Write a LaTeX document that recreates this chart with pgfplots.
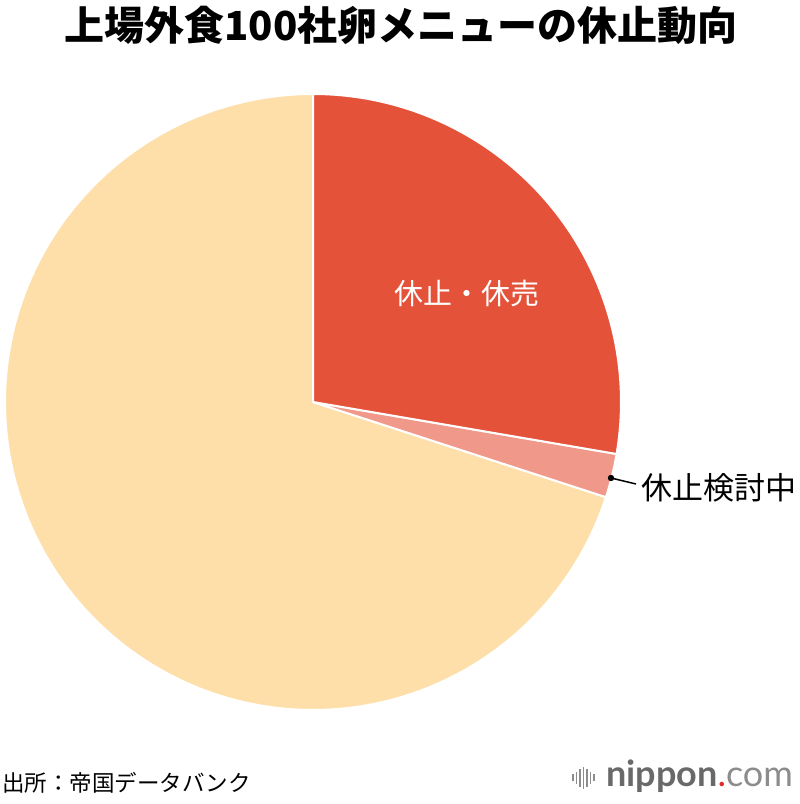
\documentclass[border=0pt]{standalone}
\usepackage{pgfplots}
\pgfplotsset{compat=1.18}
\usepackage{fontspec}
\newfontfamily\cjk{Noto Sans CJK JP}
\newfontfamily\lato{Lato}
\definecolor{cRed}{RGB}{229,82,58}
\definecolor{cPink}{RGB}{240,153,138}
\definecolor{cLight}{RGB}{254,223,169}
\definecolor{cGray}{RGB}{105,105,105}
\definecolor{cGrayL}{RGB}{140,140,140}
\definecolor{cDot}{RGB}{230,40,40}
% shares (percent)
\def\vA{27.7}  % 休止・休売
\def\vB{2.3}   % 休止検討中
\def\vC{70.0}  % その他
\pgfmathsetmacro\aZero{90}
\pgfmathsetmacro\aOne{90-3.6*\vA}
\pgfmathsetmacro\aTwo{\aOne-3.6*\vB}
\pgfmathsetmacro\aThree{\aTwo-3.6*\vC}
\begin{document}
\begin{tikzpicture}[x=1pt,y=1pt]
\useasboundingbox (0,0) rectangle (800,804);
\begin{axis}[hide axis, scale only axis, x=308pt, y=308pt,
  xmin=-1, xmax=1, ymin=-1, ymax=1, clip=false,
  anchor=south west, at={(5pt,94pt)}]
\addplot[fill=cLight, draw=white, line width=2pt, domain=\aThree:\aTwo, samples=200]
  ({cos(x)},{sin(x)}) -- (axis cs:0,0) -- cycle;
\addplot[fill=cPink, draw=white, line width=2pt, domain=\aTwo:\aOne, samples=20]
  ({cos(x)},{sin(x)}) -- (axis cs:0,0) -- cycle;
\addplot[fill=cRed, draw=white, line width=2pt, domain=\aOne:\aZero, samples=100]
  ({cos(x)},{sin(x)}) -- (axis cs:0,0) -- cycle;
\end{axis}
% title
\node[font=\cjk\bfseries\fontsize{40}{42}\selectfont, anchor=center] at (401,779) {上場外食100社卵メニューの休止動向};
% slice labels
\node[font=\cjk\fontsize{29}{31}\selectfont, text=white, anchor=center] at (467,511) {休止・休売};
\fill[black] (611,326) circle (3.2);
\draw[black, line width=1.5pt] (611,326) -- (636,320);
\node[font=\cjk\fontsize{31}{33}\selectfont, anchor=west, inner sep=0pt] at (641,316.5) {休止検討中};
% source
\node[font=\cjk\fontsize{22.5}{24}\selectfont, anchor=west, inner sep=0pt] at (2,21) {出所：帝国データバンク};
% logo
\foreach \xx/\hh in {573/7,576.5/12,580/18,583.5/22,587/18,590.5/12,594/7}
  \draw[cGrayL, line width=1.6pt] (\xx,26-\hh/2) -- (\xx,26+\hh/2);
\node[anchor=base west, inner sep=0pt, font=\lato\fontsize{36}{38}\selectfont] at (606,17)
  {\textcolor{cGray}{\bfseries nippon}\textcolor{cDot}{.}\textcolor{cGrayL}{com}};
\end{tikzpicture}
\end{document}
